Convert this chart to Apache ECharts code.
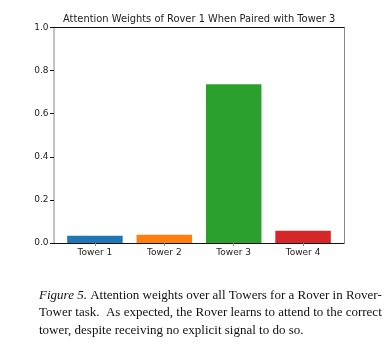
<!DOCTYPE html>
<html><head><meta charset="utf-8">
<script src="https://cdn.jsdelivr.net/npm/echarts@6/dist/echarts.min.js"></script>
<style>html,body{margin:0;padding:0;background:#fff}#c{width:392px;height:356px}</style>
</head><body><div id="c"></div>
<script>
const categories = ['Tower 1', 'Tower 2', 'Tower 3', 'Tower 4'];
const weights = [0.034, 0.038, 0.737, 0.057];
const barColors = ['#1f77b4', '#ff7f0e', '#2ca02c', '#d62728'];
const yTicks = [0, 0.2, 0.4, 0.6, 0.8, 1.0];
const titleText = 'Attention Weights of Rover 1 When Paired with Tower 3';
const captionLines = [
  '{i|Figure 5.} Attention weights over all Towers for a Rover in Rover-',
  'Tower task.  As expected, the Rover learns to attend to the correct',
  'tower, despite receiving no explicit signal to do so.'
];

const chart = echarts.init(document.getElementById('c'), null, {renderer: 'canvas'});
const idx = categories.map((_, i) => i);
const option = {
  animation: false,
  title: {
    text: titleText, left: 63, top: 14, padding: 0,
    textStyle: {fontFamily: 'DejaVu Sans', fontSize: 9.9, fontWeight: 'normal', color: '#222'}
  },
  grid: {left: 54, right: 48, top: 27.5, bottom: 113, containLabel: false},
  xAxis: [{
    type: 'value', min: -0.59, max: 3.59, position: 'bottom',
    axisLine: {show: true, onZero: false, lineStyle: {color: '#111', width: 1}},
    axisTick: {show: true, customValues: idx, length: 3, lineStyle: {color: '#888'}},
    axisLabel: {customValues: idx, formatter: v => categories[Math.round(v)] || '', fontFamily: 'DejaVu Sans', fontSize: 9, color: '#222', margin: 5},
    splitLine: {show: false}
  }, {
    type: 'value', min: -0.59, max: 3.59, position: 'top',
    axisLine: {show: true, onZero: false, lineStyle: {color: '#111', width: 1}},
    axisTick: {show: false}, axisLabel: {show: false}, splitLine: {show: false}
  }],
  yAxis: [{
    type: 'value', min: 0, max: 1, interval: 0.2, position: 'left',
    axisLine: {show: true, onZero: false, lineStyle: {color: '#c4c4c4', width: 2}},
    axisTick: {show: true, length: 4, lineStyle: {color: '#111'}},
    axisLabel: {formatter: v => v.toFixed(1), fontFamily: 'DejaVu Sans', fontSize: 9, color: '#222', margin: 5.5},
    splitLine: {show: false}
  }, {
    type: 'value', min: 0, max: 1, position: 'right',
    axisLine: {show: true, onZero: false, lineStyle: {color: '#888', width: 1}},
    axisTick: {show: false}, axisLabel: {show: false}, splitLine: {show: false}
  }],
  series: [{
    type: 'bar', xAxisIndex: 0, yAxisIndex: 0, barWidth: 55.5,
    data: weights.map((w, i) => ({value: [i, w], itemStyle: {color: barColors[i]}}))
  }],
  graphic: captionLines.map((t, i) => ({
    type: 'text', left: 39, top: 289 + i * 17.5,
    style: {
      text: t, fontFamily: 'Liberation Serif', fontSize: 13, fill: '#111',
      rich: {i: {fontStyle: 'italic', fontFamily: 'Liberation Serif', fontSize: 13, fill: '#111'}}
    }
  }))
};
chart.setOption(option);
</script></body></html>
